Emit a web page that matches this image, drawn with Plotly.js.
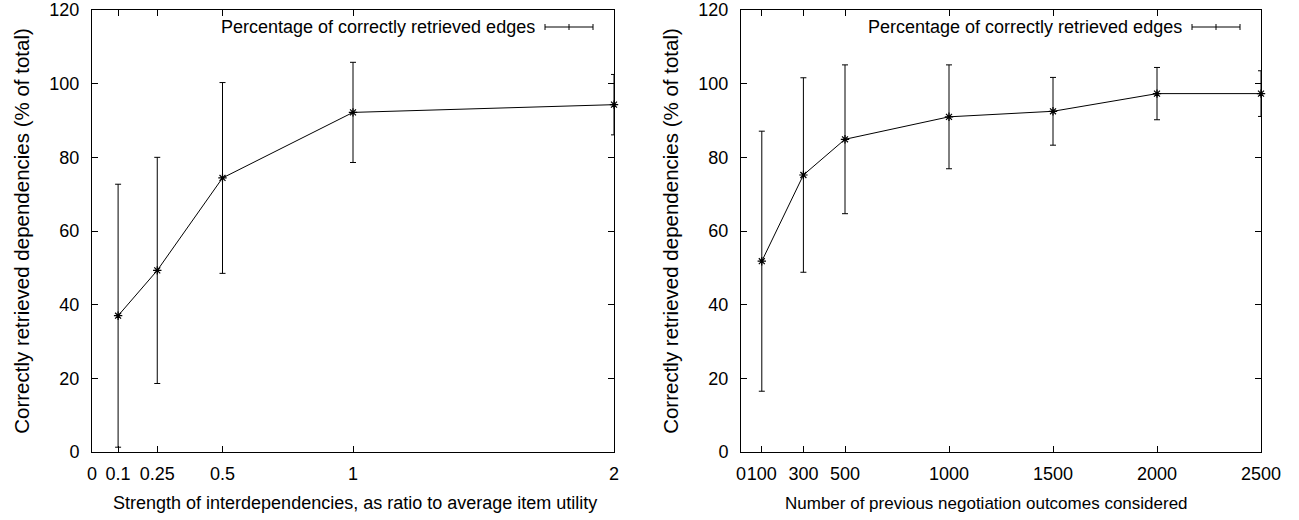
<!DOCTYPE html>
<html>
<head>
<meta charset="utf-8">
<script src="https://cdn.plot.ly/plotly-3.0.1.min.js"></script>
<style>html,body{margin:0;padding:0;background:#fff;}#chart{width:1299px;height:520px;}</style>
</head>
<body>
<div id="chart"></div>
<script>
// Left panel: strength of interdependencies
const strengthX = [0.1, 0.25, 0.5, 1, 2];
const strengthY = [37.0, 49.3, 74.4, 92.2, 94.3];
const strengthErr = [35.7, 30.7, 25.9, 13.6, 8.2];
const strengthTicks = [0, 0.1, 0.25, 0.5, 1, 2];
const strengthTickText = ['0', '0.1', '0.25', '0.5', '1', '2'];

// Right panel: number of previous negotiation outcomes
const outcomesX = [100, 300, 500, 1000, 1500, 2000, 2500];
const outcomesY = [51.8, 75.2, 84.9, 91.0, 92.5, 97.3, 97.3];
const outcomesErr = [35.3, 26.4, 20.2, 14.1, 9.2, 7.1, 6.2];
const outcomesTicks = [0, 100, 300, 500, 1000, 1500, 2000, 2500];
const outcomesTickText = ['0', '100', '300', '500', '1000', '1500', '2000', '2500'];

const yTicks = [0, 20, 40, 60, 80, 100, 120];

const legendLabel = 'Percentage of correctly retrieved edges';
const xTitleLeft = 'Strength of interdependencies, as ratio to average item utility';
const xTitleRight = 'Number of previous negotiation outcomes considered';
const yTitle = 'Correctly retrieved dependencies (% of total)';

const W = 1299, H = 520;
const FONT = 'Liberation Sans, Arial, sans-serif';
// plot areas in pixels
const areaL = {x0: 92, x1: 614}, areaR = {x0: 741, x1: 1261};
const plotTop = 10, plotBottom = 452;
const px = v => v / W, py = v => 1 - v / H;

function trace(x, y, e, xa, ya) {
  return {
    x: x, y: y, xaxis: xa, yaxis: ya, type: 'scatter', mode: 'lines+markers',
    line: {color: '#000', width: 1},
    marker: {symbol: 'asterisk-open', size: 7, color: '#000', line: {color: '#000', width: 1.2}},
    error_y: {type: 'data', array: e, visible: true, color: '#000', thickness: 1, width: 3},
    showlegend: false, cliponaxis: false, hoverinfo: 'x+y'
  };
}

const axisCommon = {
  showgrid: false, zeroline: false, showline: true, linecolor: '#000', linewidth: 1,
  mirror: 'ticks', ticks: 'inside', ticklen: 6, tickcolor: '#000', tickwidth: 1,
  tickfont: {family: FONT, size: 18, color: '#000'}, automargin: false, fixedrange: true
};

const layout = {
  width: W, height: H,
  margin: {l: 0, r: 0, t: 0, b: 0},
  paper_bgcolor: '#fff', plot_bgcolor: '#fff',
  showlegend: false,
  xaxis: Object.assign({}, axisCommon, {
    domain: [px(areaL.x0), px(areaL.x1)], range: [0, 2], anchor: 'y', tickangle: 0,
    tickmode: 'array', tickvals: strengthTicks, ticktext: strengthTickText, ticklabelstandoff: 5
  }),
  yaxis: Object.assign({}, axisCommon, {
    domain: [py(plotBottom), py(plotTop)], range: [0, 120], anchor: 'x',
    tickmode: 'array', tickvals: yTicks, ticklabelstandoff: 8,
    title: {text: yTitle, font: {family: FONT, size: 20.5, color: '#000'}, standoff: 14}
  }),
  xaxis2: Object.assign({}, axisCommon, {
    domain: [px(areaR.x0), px(areaR.x1)], range: [0, 2500], anchor: 'y2', tickangle: 0,
    tickmode: 'array', tickvals: outcomesTicks, ticktext: outcomesTickText, ticklabelstandoff: 5
  }),
  yaxis2: Object.assign({}, axisCommon, {
    domain: [py(plotBottom), py(plotTop)], range: [0, 120], anchor: 'x2',
    tickmode: 'array', tickvals: yTicks, ticklabelstandoff: 8,
    title: {text: yTitle, font: {family: FONT, size: 20.5, color: '#000'}, standoff: 14}
  }),
  annotations: [
    {xref: 'paper', yref: 'paper', x: px(355), y: py(503), xanchor: 'center', yanchor: 'middle',
     showarrow: false, text: xTitleLeft, font: {family: FONT, size: 18, color: '#000'}},
    {xref: 'paper', yref: 'paper', x: px(987), y: py(503), xanchor: 'center', yanchor: 'middle',
     showarrow: false, text: xTitleRight, font: {family: FONT, size: 17, color: '#000'}}
  ],
  shapes: []
};

// hand-drawn key in gnuplot style: text then an error-bar sample
function addKey(area) {
  const lineEnd = area.x1 - 21, lineStart = lineEnd - 48, ky = 27;
  layout.annotations.push({
    xref: 'paper', yref: 'paper', x: px(lineStart - 8), y: py(ky),
    xanchor: 'right', yanchor: 'middle', showarrow: false, text: legendLabel,
    font: {family: FONT, size: 18, color: '#000'}
  });
  const seg = (x0, y0, x1, y1) => layout.shapes.push({
    type: 'line', xref: 'paper', yref: 'paper', x0: px(x0), y0: py(y0), x1: px(x1), y1: py(y1),
    line: {color: '#000', width: 1}
  });
  seg(lineStart, ky, lineEnd, ky);
  seg(lineStart, ky - 3, lineStart, ky + 3);
  seg(lineEnd, ky - 3, lineEnd, ky + 3);
  const mid = (lineStart + lineEnd) / 2;
  seg(mid, ky - 3, mid, ky + 3);
}
addKey(areaL);
addKey(areaR);

Plotly.newPlot('chart', [
  trace(strengthX, strengthY, strengthErr, 'x', 'y'),
  trace(outcomesX, outcomesY, outcomesErr, 'x2', 'y2')
], layout, {displayModeBar: false, staticPlot: true});
</script>
</body>
</html>
